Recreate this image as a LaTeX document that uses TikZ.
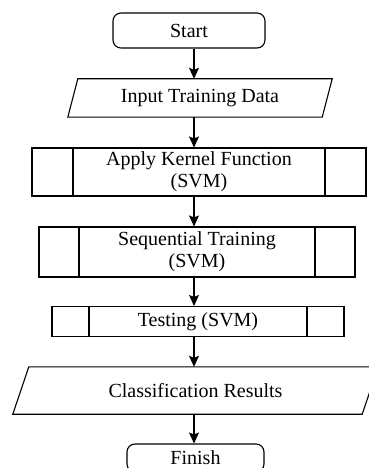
\documentclass[tikz,border=0pt]{standalone}
\usepackage{fontspec}
\setmainfont{Liberation Serif}
\usetikzlibrary{arrows.meta}
\begin{document}
\begin{tikzpicture}[x=1pt,y=-1pt,
  every node/.style={font=\fontsize{20}{22}\selectfont, align=center, inner sep=0pt},
  lw/.style={line width=1.1pt},
  term/.style={lw, draw, rectangle, rounded corners=8pt},
  process/.style={lw, draw, rectangle, path picture={
     \draw[line width=1.1pt] ([xshift=#1]path picture bounding box.north west) -- ([xshift=#1]path picture bounding box.south west)
       ([xshift=-#1]path picture bounding box.north east) -- ([xshift=-#1]path picture bounding box.south east);}},
  arr/.style={lw, -{Stealth[length=11pt,width=10pt,inset=2pt]}}
]
\useasboundingbox[fill=white] (0,0) rectangle (369,468);
\coordinate (axis) at (194,0);

\node[term, minimum width=152pt, minimum height=35pt] (start) at (189,30.5) {Start};
\node[minimum width=254pt, minimum height=38pt] (input) at (200,98) {Input Training Data};
\draw[lw] ([xshift=5pt]input.north west) -- ([xshift=5pt]input.north east)
  -- ([xshift=-5pt]input.south east) -- ([xshift=-5pt]input.south west) -- cycle;
\node[process=41pt, minimum width=334pt, minimum height=48pt] (apply) at (199,172) {Apply Kernel Function\\(SVM)};
\node[process=40pt, minimum width=316pt, minimum height=50pt] (seq) at (197,252) {Sequential Training\\(SVM)};
\node[process=37pt, minimum width=292pt, minimum height=30pt] (test) at (198,321.5) {Testing (SVM)};
\node[minimum width=349pt, minimum height=47pt] (class) at (195.5,390.5) {Classification Results};
\draw[lw] ([xshift=8pt]class.north west) -- ([xshift=8pt]class.north east)
  -- ([xshift=-8pt]class.south east) -- ([xshift=-8pt]class.south west) -- cycle;
\node[term, minimum width=137pt, minimum height=28pt] (finish) at (195.5,458) {Finish};

\draw[arr] (start.south -| axis) -- (input.north -| axis);
\draw[arr] (input.south -| axis) -- (apply.north -| axis);
\draw[arr] (apply.south -| axis) -- (seq.north -| axis);
\draw[arr] (seq.south -| axis) -- (test.north -| axis);
\draw[arr] (test.south -| axis) -- (class.north -| axis);
\draw[arr] (class.south -| axis) -- (finish.north -| axis);
\end{tikzpicture}
\end{document}
